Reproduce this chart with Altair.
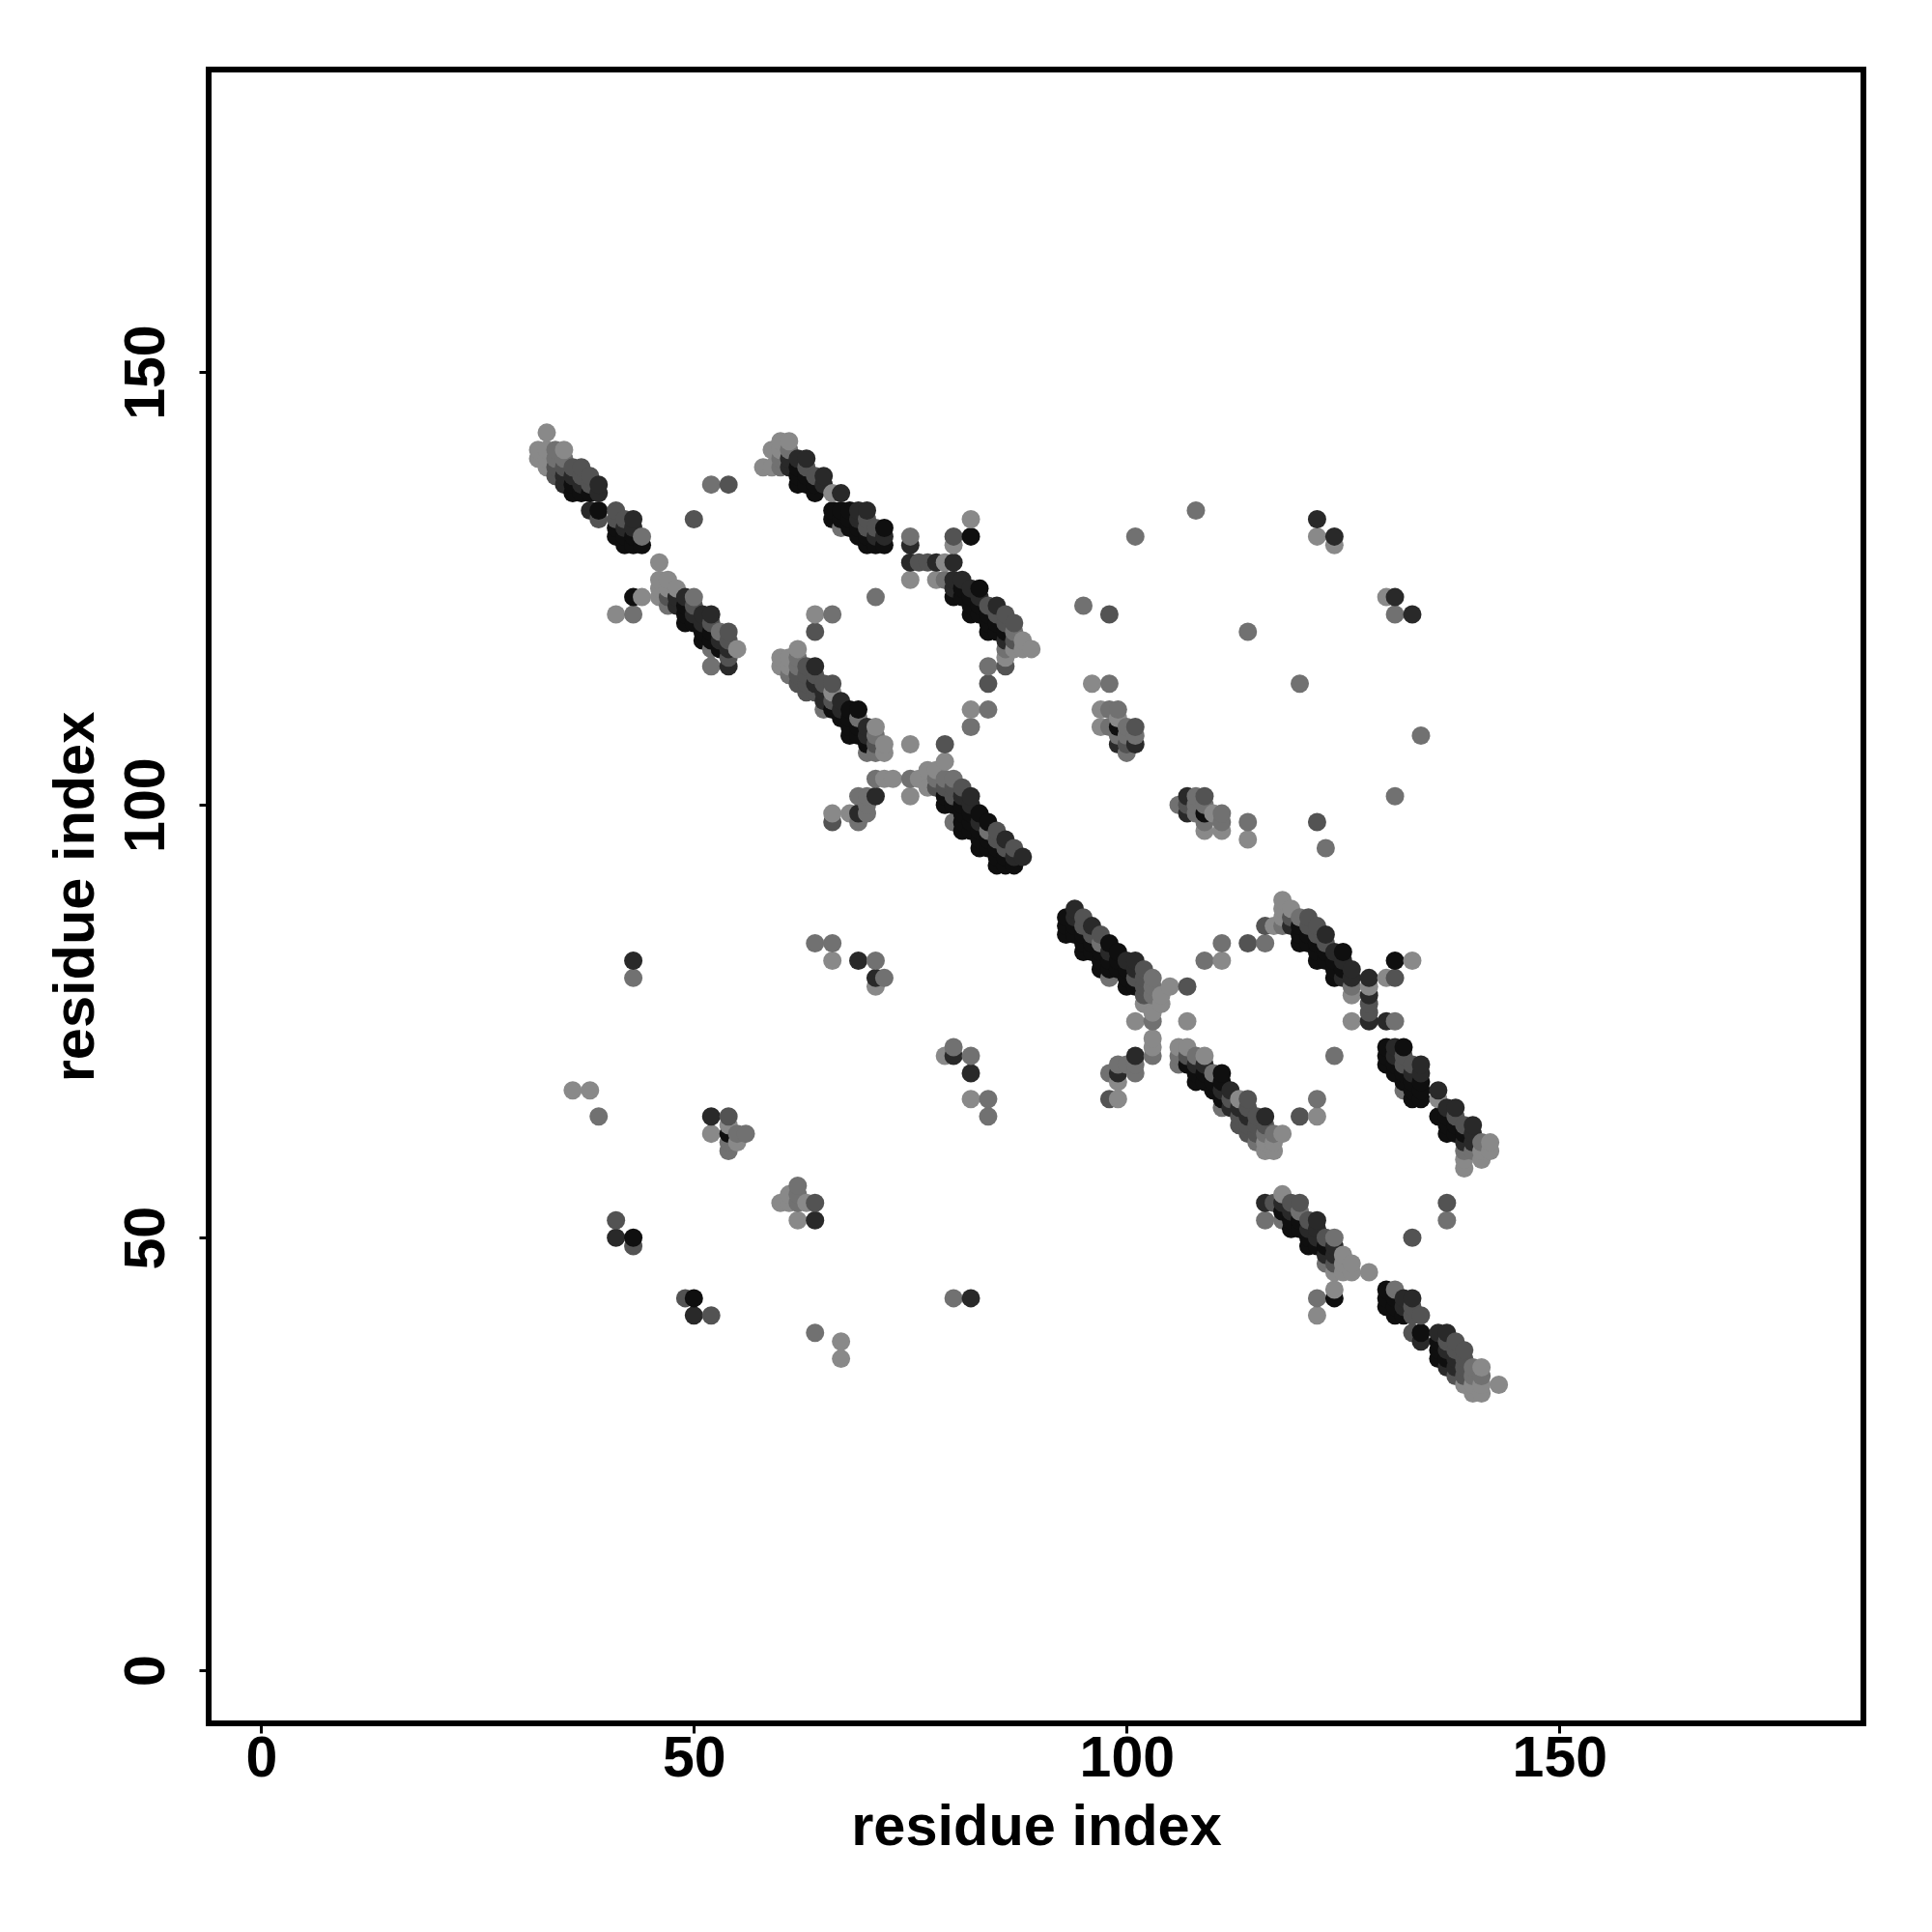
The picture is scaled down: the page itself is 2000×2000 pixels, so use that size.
import altair as alt
import pandas as pd

# contact strength levels read from the grey of each dot
K, D, M, G, L = 0.93, 0.73, 0.43, 0.23, 0.08

# (residue i, residue j, strength), upper triangle of a symmetric contact map
band_a = [(32,141,L),(32,140,L),(33,143,L),(33,141,L),(33,140,L),(33,139,L),
 (34,141,G),(34,140,G),(34,139,M),(34,138,M),(35,141,L),(35,140,G),(35,139,M),(35,138,D),(35,137,D),
 (36,139,M),(36,138,D),(36,137,K),(36,136,K),(37,139,M),(37,138,M),(37,137,D),(37,136,K),
 (38,138,M),(38,137,M),(38,136,K),(38,134,D),(39,137,D),(39,136,D),(39,134,K),(39,133,M),
 (41,134,M),(41,133,M),(41,132,K),(41,131,K),(42,133,M),(42,132,D),(42,131,K),(42,130,K),
 (43,133,D),(43,132,D),(43,131,K),(43,130,K),(44,131,G),(44,130,K)]
band_b = [(46,128,L),(46,126,L),(46,125,L),(46,124,L),(47,126,L),(47,125,L),(47,124,M),(47,123,G),
 (48,125,L),(48,124,D),(48,123,D),(49,124,D),(49,123,K),(49,122,K),(49,121,K),
 (50,124,G),(50,123,M),(50,122,D),(50,121,K),(51,122,D),(51,121,D),(51,120,K),(51,119,K),
 (52,122,D),(52,121,M),(52,120,K),(52,119,K),(52,118,G),(52,116,G),(53,120,G),(53,119,D),(53,118,K),
 (54,120,M),(54,119,M),(54,118,D),(54,117,M),(54,116,D),(55,118,L)]
band_c = [(58,139,L),(59,141,L),(59,139,L),(60,142,L),(60,141,L),(60,140,G),(60,139,G),
 (61,142,L),(61,141,G),(61,140,D),(61,139,D),(62,140,D),(62,139,K),(62,138,K),(62,137,K),
 (63,140,D),(63,139,M),(63,138,K),(63,137,K),(64,138,M),(64,137,K),(64,136,K),
 (65,138,D),(65,137,D),(66,136,L),(66,134,K),(66,133,K),(67,136,D),(67,134,K),(67,133,K),(67,132,G),
 (68,134,K),(68,133,K),(68,132,K),(69,134,D),(69,133,D),(69,132,K),(69,131,K),
 (70,134,D),(70,133,M),(70,132,M),(70,131,K),(70,130,K),(71,132,M),(71,131,D),(71,130,K),
 (72,132,K),(72,131,D),(72,130,K)]
band_d = [(80,126,D),(80,125,D),(80,124,K),(81,126,D),(81,125,K),(81,124,K),
 (82,125,D),(82,124,K),(82,123,K),(82,122,K),(83,125,K),(83,124,D),(83,123,K),(83,122,K),
 (84,123,M),(84,122,K),(84,121,K),(84,120,K),(85,123,D),(85,122,M),(85,121,K),(85,120,K),
 (86,122,M),(86,121,M),(86,120,K),(86,119,D),(86,118,G),(86,117,L),(86,116,M),
 (87,121,M),(87,120,G),(87,119,M),(87,118,L),(88,119,L),(88,118,L),(89,118,L)]
links_top = [(75,131,G),(75,130,D),(75,128,D),(76,128,M),(77,128,M),(78,128,D),(79,128,L),(80,128,D),
 (80,131,M),(80,130,L),(82,133,L),(82,131,K),(75,126,L),(78,126,L),(79,126,G),
 (84,116,G),(84,114,M),(82,111,L),(84,111,G),(82,109,G),(71,124,G),(64,122,L),(66,122,G),(64,120,M)]
band_e = [(60,117,L),(60,116,L),(61,117,L),(61,116,L),(61,115,G),(62,118,L),(62,117,G),(62,116,G),(62,115,M),(62,114,M),
 (63,116,M),(63,115,M),(63,114,M),(63,113,M),(64,116,D),(64,115,M),(64,114,D),(64,113,M),
 (65,114,M),(65,113,D),(65,112,D),(65,111,G),(66,114,M),(66,113,L),(66,112,M),(66,111,K),
 (67,112,D),(67,111,D),(67,110,K),(68,111,K),(68,110,K),(68,109,K),(68,108,K),
 (69,111,K),(69,110,G),(69,109,K),(69,108,K),(70,109,D),(70,108,D),(70,107,K),(70,106,G),
 (71,109,L),(71,108,G),(71,107,M),(71,106,G),(72,107,L),(72,106,L)]
band_f = [(75,107,L),(75,103,G),(75,101,L),(76,103,L),(77,104,L),(77,102,L),(78,104,L),(78,103,G),(78,102,M),
 (79,107,M),(79,105,L),(79,103,G),(79,102,M),(79,101,K),(79,100,K),(80,103,G),(80,102,M),(80,101,M),(80,100,K),(80,98,G),
 (81,102,M),(81,101,D),(81,100,K),(81,99,K),(81,98,K),(81,97,K),(82,101,D),(82,100,D),(82,99,K),(82,98,K),(82,97,K),
 (83,99,K),(83,98,D),(83,97,K),(83,96,K),(83,95,K),(84,98,K),(84,97,G),(84,96,K),(84,95,K),
 (85,97,M),(85,96,M),(85,95,K),(85,94,K),(85,93,K),(86,96,D),(86,95,M),(86,94,K),(86,93,K),
 (87,95,M),(87,94,D),(87,93,K),(88,94,D)]
links_mid = [(71,103,G),(72,103,L),(73,103,L),(71,101,D),(70,101,G),(69,101,G),(70,100,G),(70,99,G),
 (69,99,D),(68,99,L),(69,98,G),(66,99,L),(66,98,M)]
cluster = [(96,114,L),(98,114,G),(97,111,L),(98,111,G),(99,111,G),(97,109,L),(98,109,G),(99,110,L),(99,109,K),
 (99,108,G),(99,107,D),(100,109,G),(100,108,G),(100,107,M),(100,106,G),(101,109,M),(101,108,G),(101,107,D)]
scatter_far = [(95,123,G),(98,122,M),(101,131,G),(108,134,G),(122,133,D),(122,131,L),(124,131,D),(124,130,L),
 (130,124,L),(131,124,D),(131,122,G),(133,122,D),(114,120,G),(120,114,G),(134,108,G),(131,101,G),
 (122,98,M),(123,95,G),(114,98,G),(114,96,L)]
scatter_a = [(52,137,G),(54,137,M),(50,133,M),(43,124,K),(44,124,L),(41,122,L),(43,122,G)]
scatter_near = [(43,82,D),(43,80,G),(64,84,G),(66,84,G),(66,82,L),(69,82,D),(71,82,G),(71,80,D),(72,80,G),(71,79,L),
 (36,67,L),(38,67,L),(39,64,G),(52,64,D),(54,64,M),(52,62,L),(54,63,L),(54,62,K),(55,62,G),(56,62,G),
 (54,60,G),(55,61,L),(54,61,G),(41,52,M),(41,50,D),(43,50,K),(43,49,M),(60,54,L),(61,54,L),(62,54,G),(63,54,L)]

x_ticks = [0, 50, 100, 150]
axis_label = "residue index"

upper = (band_a + band_b + band_c + band_d + links_top + band_e + band_f +
         links_mid + cluster + scatter_far + scatter_a + scatter_near)
rows = [{"i": a, "j": b, "s": c} for a, b, c in upper] + [{"i": b, "j": a, "s": c} for a, b, c in upper]
df = pd.DataFrame(rows).drop_duplicates(["i", "j"]).sort_values(["i", "j"]).reset_index(drop=True)

FONT = "Liberation Sans"

def axis(**kw):
    return alt.Axis(values=x_ticks, title=axis_label, grid=False, domain=False,
                    tickColor="black", tickWidth=3, tickSize=10,
                    labelFont=FONT, labelFontWeight="bold", labelFontSize=59, labelColor="black",
                    titleFont=FONT, titleFontWeight="bold", titleFontSize=59.5, titleColor="black",
                    **kw)

chart = alt.Chart(df).mark_circle(size=361, opacity=1).encode(
    x=alt.X("i:Q", scale=alt.Scale(domain=[-6.06, 185.12], nice=False, zero=False),
            axis=axis(labelPadding=-3, titlePadding=12)),
    y=alt.Y("j:Q", scale=alt.Scale(domain=[-6.12, 184.95], nice=False, zero=False),
            axis=axis(labelAngle=270, labelAlign="center", labelBaseline="bottom", labelPadding=25, titlePadding=14)),
    color=alt.Color("s:Q", scale=alt.Scale(domain=[0, 1], range=["#969696", "#000000"]), legend=None),
    order=alt.Order("index:Q"),
).transform_window(index="row_number()").properties(
    width=1713, height=1712,
    autosize=alt.AutoSizeParams(type="none"),
    padding={"left": 208, "top": 64, "right": 60, "bottom": 200},
    background="white",
).configure_view(stroke="black", strokeWidth=6)

chart.save("out.html", embed_options={"renderer": "svg", "actions": False})
